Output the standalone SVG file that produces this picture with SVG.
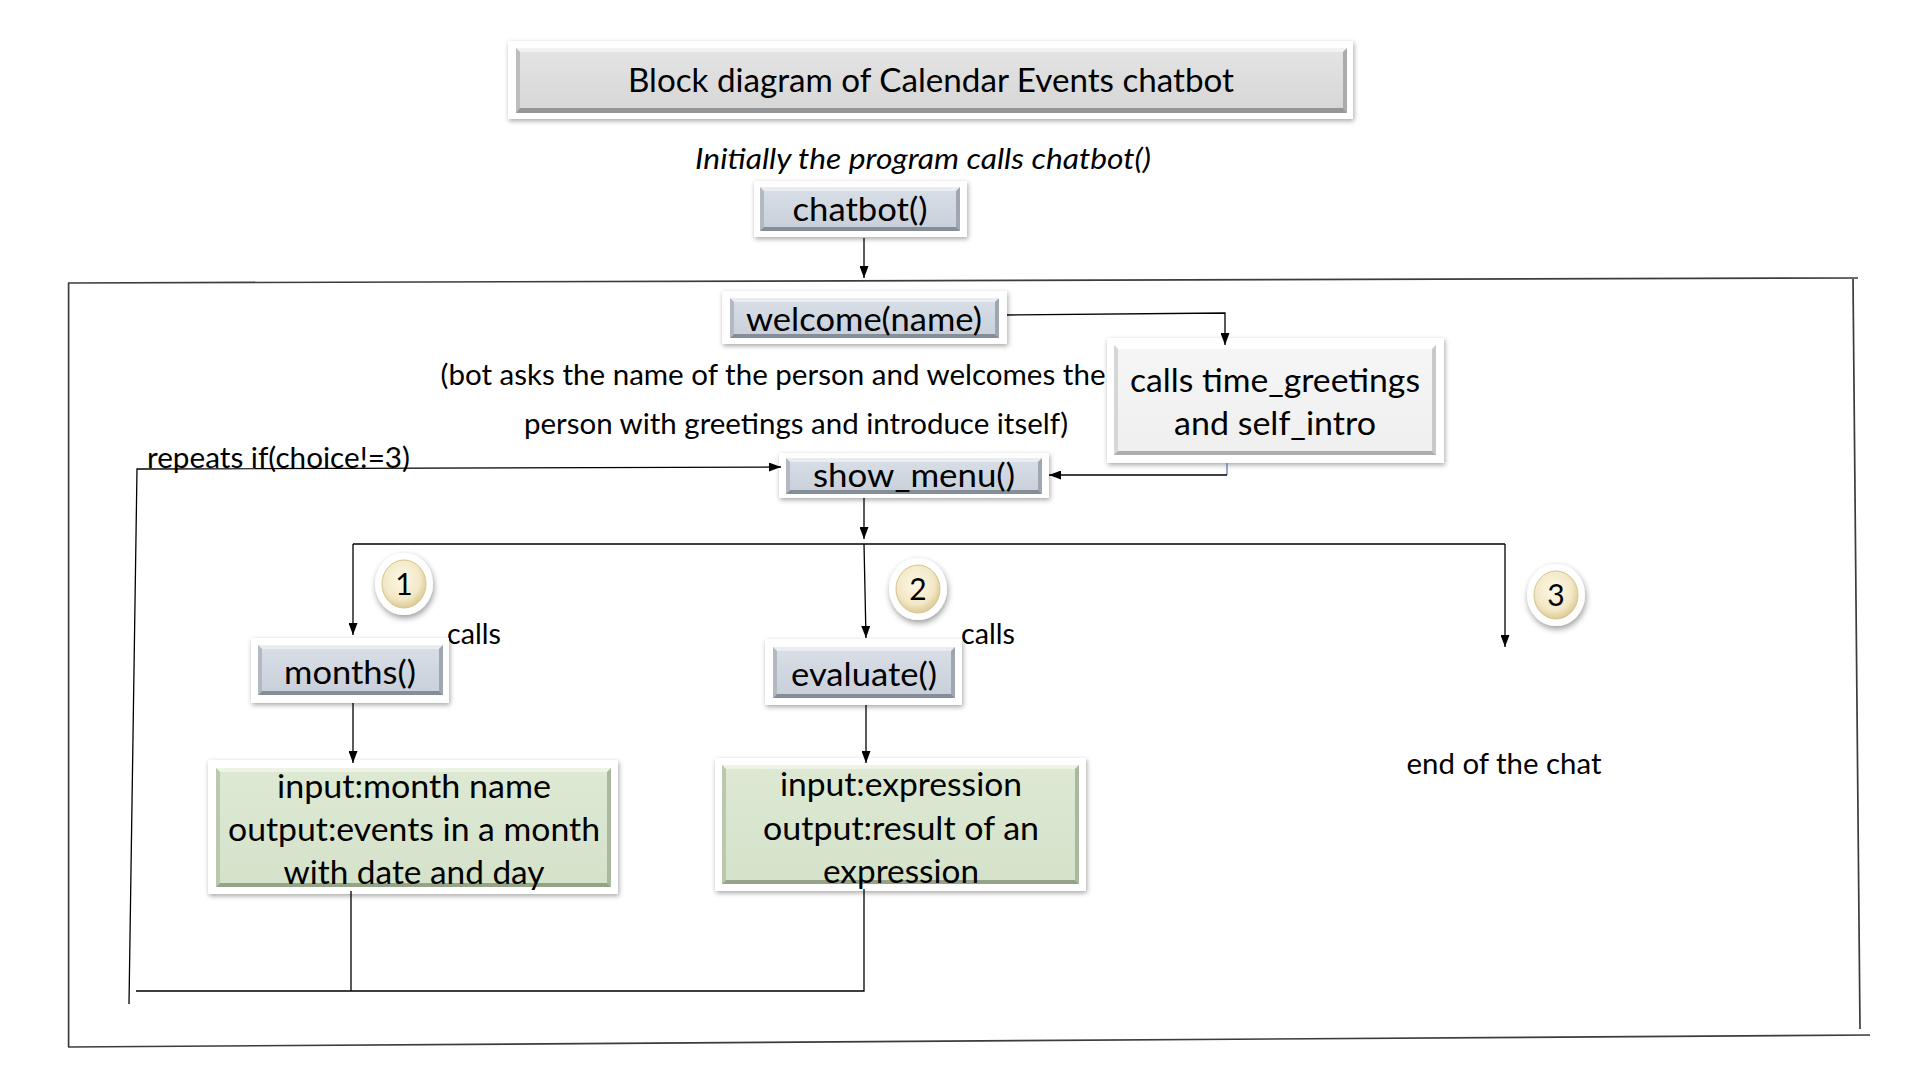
<svg xmlns="http://www.w3.org/2000/svg" width="1920" height="1080" viewBox="0 0 1920 1080">
<defs>
<style>
.t{font-family:Lato,"Liberation Sans",sans-serif;fill:#000}
.b{font-size:33px}
.a{font-size:29px}
.ln{stroke:#000;stroke-width:1.3;fill:none}
.fr{stroke:#3c3c3c;stroke-width:1.7;fill:none}
.out{fill:#fff;filter:url(#sh)}
.bl{fill:url(#gBlue)}
.gr{fill:url(#gGray)}
.lt{fill:url(#gLight)}
.gn{fill:url(#gGreen)}
.bl-t{fill:#e9edf2}.bl-l{fill:#b2b9c3}.bl-r{fill:#9ea6b1}.bl-b{fill:#858d98}
.gr-t{fill:#f1f1f1}.gr-l{fill:#bdbdbd}.gr-r{fill:#ababab}.gr-b{fill:#969696}
.lt-t{fill:#ffffff}.lt-l{fill:#d6d6d6}.lt-r{fill:#c8c8c8}.lt-b{fill:#adadad}
.gn-t{fill:#edf4e6}.gn-l{fill:#bac8ae}.gn-r{fill:#aab89e}.gn-b{fill:#95a389}
</style>
<filter id="sh" x="-20%" y="-30%" width="140%" height="160%">
<feDropShadow dx="1" dy="2" stdDeviation="2.5" flood-color="#000" flood-opacity="0.35"/>
</filter>
<filter id="shc" x="-40%" y="-40%" width="180%" height="180%">
<feDropShadow dx="1" dy="3" stdDeviation="3" flood-color="#000" flood-opacity="0.4"/>
</filter>
<linearGradient id="gBlue" x1="0" y1="0" x2="0" y2="1"><stop offset="0" stop-color="#d9dfe7"/><stop offset="1" stop-color="#c8cfd9"/></linearGradient>
<linearGradient id="gGray" x1="0" y1="0" x2="0" y2="1"><stop offset="0" stop-color="#e4e4e4"/><stop offset="1" stop-color="#d6d6d6"/></linearGradient>
<linearGradient id="gLight" x1="0" y1="0" x2="0" y2="1"><stop offset="0" stop-color="#f6f6f6"/><stop offset="1" stop-color="#efefef"/></linearGradient>
<linearGradient id="gGreen" x1="0" y1="0" x2="0" y2="1"><stop offset="0" stop-color="#dde9d3"/><stop offset="1" stop-color="#d5e2ca"/></linearGradient>
<radialGradient id="cream" cx="0.45" cy="0.4" r="0.6"><stop offset="0" stop-color="#fdf8e8"/><stop offset="0.7" stop-color="#f3e8c6"/><stop offset="1" stop-color="#dccb95"/></radialGradient>
<marker id="ar" viewBox="0 0 12 9" refX="12" refY="4.5" markerWidth="12" markerHeight="9" markerUnits="userSpaceOnUse" orient="auto"><path d="M0,0 L12,4.5 L0,9 z" fill="#000"/></marker>
</defs>
<rect width="1920" height="1080" fill="#fff"/>

<g id="frame">
<path class="fr" d="M68,283 L1858,278"/>
<path class="fr" d="M1853,279 L1860,1029"/>
<path class="fr" d="M68,1047 L1870,1035"/>
<path class="fr" d="M68.6,283 L68.6,1047"/>
</g>

<g id="title">
<rect class="out" x="508" y="41" width="845" height="78"/>
<rect class="gr" x="516" y="48" width="831" height="65"/>
<polygon class="gr-t" points="516,48 1347,48 1343,52 520,52"/>
<polygon class="gr-l" points="516,48 520,52 520,108 516,113"/>
<polygon class="gr-r" points="1347,48 1343,52 1343,108 1347,113"/>
<polygon class="gr-b" points="516,113 1347,113 1343,108 520,108"/>
<text class="t" x="931" y="92" font-size="33" text-anchor="middle" textLength="606" lengthAdjust="spacingAndGlyphs">Block diagram of Calendar Events chatbot</text>
</g>

<g id="intro-note">
<text class="t a" x="923" y="169" font-style="italic" text-anchor="middle" textLength="456" lengthAdjust="spacingAndGlyphs">Initially the program calls chatbot()</text>
</g>

<g id="chatbot">
<rect class="out" x="754" y="181" width="213" height="56"/>
<rect class="bl" x="760" y="187" width="200" height="44"/>
<polygon class="bl-t" points="760,187 960,187 956,191 764,191"/>
<polygon class="bl-l" points="760,187 764,191 764,227 760,231"/>
<polygon class="bl-r" points="960,187 956,191 956,227 960,231"/>
<polygon class="bl-b" points="760,231 960,231 956,227 764,227"/>
<text class="t b" x="860" y="221" text-anchor="middle" textLength="135" lengthAdjust="spacingAndGlyphs">chatbot()</text>
</g>

<g id="welcome">
<rect class="out" x="722" y="291" width="285" height="53"/>
<rect class="bl" x="730" y="298" width="269" height="40"/>
<polygon class="bl-t" points="730,298 999,298 995,302 734,302"/>
<polygon class="bl-l" points="730,298 734,302 734,334 730,338"/>
<polygon class="bl-r" points="999,298 995,302 995,334 999,338"/>
<polygon class="bl-b" points="730,338 999,338 995,334 734,334"/>
<text class="t b" x="864" y="331" text-anchor="middle" textLength="236" lengthAdjust="spacingAndGlyphs">welcome(name)</text>
</g>

<g id="welcome-note">
<text class="t a" x="773" y="385" text-anchor="middle" textLength="665" lengthAdjust="spacingAndGlyphs">(bot asks the name of the person and welcomes the</text>
<text class="t a" x="796" y="434" text-anchor="middle" textLength="544" lengthAdjust="spacingAndGlyphs">person with greetings and introduce itself)</text>
</g>

<g id="greetings">
<rect class="out" x="1107" y="338" width="337" height="125"/>
<rect class="lt" x="1114" y="345" width="322" height="110"/>
<polygon class="lt-t" points="1114,345 1436,345 1432,349 1118,349"/>
<polygon class="lt-l" points="1114,345 1118,349 1118,451 1114,455"/>
<polygon class="lt-r" points="1436,345 1432,349 1432,451 1436,455"/>
<polygon class="lt-b" points="1114,455 1436,455 1432,451 1118,451"/>
<text class="t b" x="1275" y="392" text-anchor="middle" textLength="290" lengthAdjust="spacingAndGlyphs">calls time_greetings</text>
<text class="t b" x="1275" y="435" text-anchor="middle" textLength="202" lengthAdjust="spacingAndGlyphs">and self_intro</text>
</g>

<g id="repeat-note">
<text class="t a" x="147" y="468" textLength="263" lengthAdjust="spacingAndGlyphs">repeats if(choice!=3)</text>
</g>

<g id="show-menu">
<rect class="out" x="779" y="453" width="270" height="45"/>
<rect class="bl" x="786" y="458" width="256" height="36"/>
<polygon class="bl-t" points="786,458 1042,458 1038,462 790,462"/>
<polygon class="bl-l" points="786,458 790,462 790,490 786,494"/>
<polygon class="bl-r" points="1042,458 1038,462 1038,490 1042,494"/>
<polygon class="bl-b" points="786,494 1042,494 1038,490 790,490"/>
<text class="t b" x="914" y="487" text-anchor="middle" textLength="202" lengthAdjust="spacingAndGlyphs">show_menu()</text>
</g>

<g id="choice-1">
<ellipse cx="404" cy="584" rx="29" ry="31" fill="#fff" filter="url(#shc)"/>
<ellipse cx="404" cy="584" rx="22" ry="24" fill="url(#cream)" stroke="#d6c48e" stroke-width="1"/>
<text class="t" x="404" y="595" font-size="30" text-anchor="middle">1</text>
</g>
<g id="choice-2">
<ellipse cx="918" cy="589" rx="29" ry="31" fill="#fff" filter="url(#shc)"/>
<ellipse cx="918" cy="589" rx="22" ry="24" fill="url(#cream)" stroke="#d6c48e" stroke-width="1"/>
<text class="t" x="918" y="600" font-size="30" text-anchor="middle">2</text>
</g>
<g id="choice-3">
<ellipse cx="1556" cy="595" rx="29" ry="31" fill="#fff" filter="url(#shc)"/>
<ellipse cx="1556" cy="595" rx="22" ry="24" fill="url(#cream)" stroke="#d6c48e" stroke-width="1"/>
<text class="t" x="1556" y="606" font-size="30" text-anchor="middle">3</text>
</g>

<g id="calls-labels">
<text class="t a" x="447" y="644" textLength="54" lengthAdjust="spacingAndGlyphs">calls</text>
<text class="t a" x="961" y="644" textLength="54" lengthAdjust="spacingAndGlyphs">calls</text>
</g>

<g id="months">
<rect class="out" x="251" y="638" width="198" height="65"/>
<rect class="bl" x="258" y="645" width="185" height="50"/>
<polygon class="bl-t" points="258,645 443,645 439,649 262,649"/>
<polygon class="bl-l" points="258,645 262,649 262,691 258,695"/>
<polygon class="bl-r" points="443,645 439,649 439,691 443,695"/>
<polygon class="bl-b" points="258,695 443,695 439,691 262,691"/>
<text class="t b" x="350" y="684" text-anchor="middle" textLength="132" lengthAdjust="spacingAndGlyphs">months()</text>
</g>

<g id="evaluate">
<rect class="out" x="765" y="639" width="197" height="66"/>
<rect class="bl" x="773" y="647" width="182" height="51"/>
<polygon class="bl-t" points="773,647 955,647 951,651 777,651"/>
<polygon class="bl-l" points="773,647 777,651 777,694 773,698"/>
<polygon class="bl-r" points="955,647 951,651 951,694 955,698"/>
<polygon class="bl-b" points="773,698 955,698 951,694 777,694"/>
<text class="t b" x="864" y="686" text-anchor="middle" textLength="146" lengthAdjust="spacingAndGlyphs">evaluate()</text>
</g>

<g id="months-io">
<rect class="out" x="208" y="760" width="410" height="134"/>
<rect class="gn" x="216" y="768" width="395" height="119"/>
<polygon class="gn-t" points="216,768 611,768 607,772 220,772"/>
<polygon class="gn-l" points="216,768 220,772 220,883 216,887"/>
<polygon class="gn-r" points="611,768 607,772 607,883 611,887"/>
<polygon class="gn-b" points="216,887 611,887 607,883 220,883"/>
<text class="t b" x="414" y="798" text-anchor="middle" textLength="274" lengthAdjust="spacingAndGlyphs">input:month name</text>
<text class="t b" x="414" y="841" text-anchor="middle" textLength="372" lengthAdjust="spacingAndGlyphs">output:events in a month</text>
<text class="t b" x="414" y="884" text-anchor="middle" textLength="261" lengthAdjust="spacingAndGlyphs">with date and day</text>
</g>

<g id="evaluate-io">
<rect class="out" x="715" y="758" width="371" height="133"/>
<rect class="gn" x="722" y="765" width="357" height="119"/>
<polygon class="gn-t" points="722,765 1079,765 1075,769 726,769"/>
<polygon class="gn-l" points="722,765 726,769 726,880 722,884"/>
<polygon class="gn-r" points="1079,765 1075,769 1075,880 1079,884"/>
<polygon class="gn-b" points="722,884 1079,884 1075,880 726,880"/>
<text class="t b" x="901" y="796" text-anchor="middle" textLength="242" lengthAdjust="spacingAndGlyphs">input:expression</text>
<text class="t b" x="901" y="840" text-anchor="middle" textLength="276" lengthAdjust="spacingAndGlyphs">output:result of an</text>
<text class="t b" x="901" y="883" text-anchor="middle" textLength="156" lengthAdjust="spacingAndGlyphs">expression</text>
</g>

<g id="end-chat">
<text class="t a" x="1504" y="774" text-anchor="middle" textLength="195" lengthAdjust="spacingAndGlyphs">end of the chat</text>
</g>

<g id="connectors">
<path class="ln" d="M864,238 L864,278" marker-end="url(#ar)"/>
<path class="ln" d="M1007,315 L1225,313 L1225,345" marker-end="url(#ar)"/>
<path d="M1227,463 L1227,475" stroke="#4f6fae" stroke-width="1.2" fill="none"/>
<path class="ln" d="M1227,475 L1049,475" marker-end="url(#ar)"/>
<path class="ln" d="M129,1004 L137,469 L781,467" marker-end="url(#ar)"/>
<path class="ln" d="M136,991 L864,991 L864,889"/>
<path class="ln" d="M351,891 L351,991"/>
<path class="ln" d="M864,498 L864,539" marker-end="url(#ar)"/>
<path class="ln" d="M353,544 L1505,544"/>
<path class="ln" d="M353,544 L353,635" marker-end="url(#ar)"/>
<path class="ln" d="M864,544 L866,638" marker-end="url(#ar)"/>
<path class="ln" d="M1505,544 L1505,647" marker-end="url(#ar)"/>
<path class="ln" d="M353,703 L353,763" marker-end="url(#ar)"/>
<path class="ln" d="M866,705 L866,763" marker-end="url(#ar)"/>
</g>
</svg>
